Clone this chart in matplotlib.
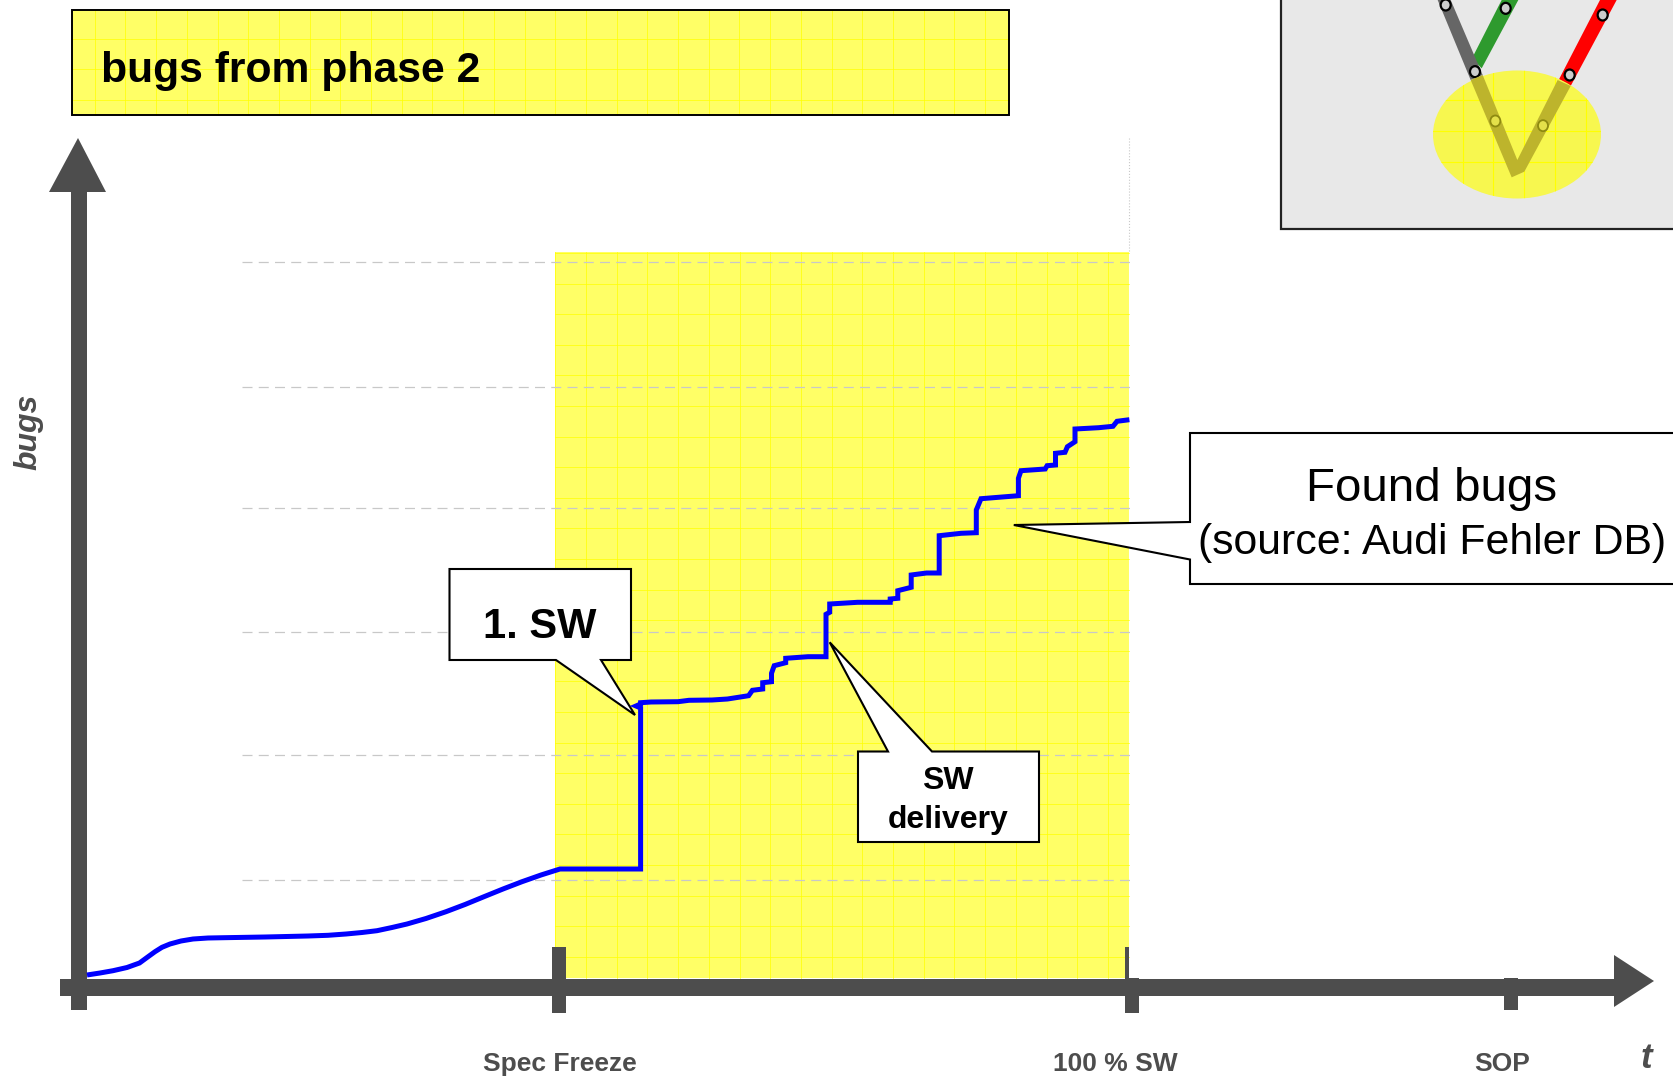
import numpy as np
import matplotlib
matplotlib.use("Agg")
import matplotlib.pyplot as plt
from matplotlib.patches import Rectangle, Polygon, Ellipse

plt.rcParams['font.family'] = ['Liberation Sans', 'DejaVu Sans']

# Found-bugs curve (pixel scale of the schematic chart)
curve_x = [87,100,113,127,139.5,147,155,162,170,181,193,208,224,265,308,328,346,362,377,392,407,426,446,465,484,503,522,541,560,640.6,640.6,636,640.6,640.6,651,678,689,712,727.5,748.6,752.4,762.7,762.7,771.5,771.5,774.2,785.7,785.7,808,826,826,829.7,829.7,857.6,890.2,890.2,897.8,897.8,911.2,911.2,926.5,939.2,939.2,961,976.3,976.3,981,1018.4,1018.4,1021,1045.2,1047.1,1055.5,1055.5,1065,1067.4,1075,1075,1098.7,1113,1117,1129.4]
curve_y = [975,973,970.7,967.5,963,957.5,951.7,947.3,944,941,939,938,937.7,937,936,935.3,934,932.5,930.7,927.5,924,918.5,911.7,904.5,896.7,889,881.7,875,869,869,708,706,704,702.7,702,701.7,700.3,700,699,695.7,690.3,689,682.7,681.7,673.3,665.7,662.7,658.3,656.7,656.7,614.3,612.3,604,602.3,602.3,599,598.3,590.7,587.3,575,573,573,535.7,533.3,532.7,510,498.7,495.7,478.3,470.7,469,465.7,465,453.3,452.3,446.7,441.7,429,427.7,426.3,421.3,419.7]
gridline_y = [261.5, 386.5, 508, 632, 755, 880]
milestones = ["Spec Freeze", "100 % SW", "SOP"]
milestone_x = [560, 1115, 1502]

DARK = "#4D4D4D"
YEL_BG = "#FFFF66"
YEL_LN = "#FFFF00"

fig = plt.figure(figsize=(16.74, 10.76), dpi=100)
ax = fig.add_axes([0, 0, 1, 1])
ax.set_xlim(0, 1674)
ax.set_ylim(1076, 0)
ax.axis("off")


def yellow_patch(x0, y0, x1, y1, edge=None):
    ax.add_patch(Rectangle((x0, y0), x1 - x0, y1 - y0, fc=YEL_BG, ec="none", zorder=1))
    for x in np.arange(586 % 30.7 + 30.7 * np.ceil((x0 - 586 % 30.7) / 30.7), x1, 30.7):
        ax.plot([x, x], [y0, y1], color=YEL_LN, lw=0.5, zorder=1.1)
    for y in np.arange(406 % 30.6 + 30.6 * np.ceil((y0 - 406 % 30.6) / 30.6), y1, 30.6):
        ax.plot([x0, x1], [y, y], color=YEL_LN, lw=0.5, zorder=1.1)
    if edge:
        ax.add_patch(Rectangle((x0, y0), x1 - x0, y1 - y0, fc="none", ec=edge, lw=1.4, zorder=1.2))


# main highlight and title box
yellow_patch(555, 252, 1129.5, 978)
yellow_patch(72, 10, 1009, 115, edge="black")
ax.text(101, 71, "bugs from phase 2", fontsize=30.7, fontweight="bold", va="center", ha="left", color="black", zorder=5)

# dashed level lines
for y in gridline_y:
    ax.plot([242, 1130], [y, y], color="#C8C8C8", lw=0.9, dashes=(8, 5), zorder=1.5)
ax.plot([1129.5, 1129.5], [138, 252], color="#C8C8C8", lw=0.8, ls=":", zorder=1.5)

# inset
ax.add_patch(Rectangle((1281, -5), 400, 234, fc="#E8E8E8", ec="#222222", lw=1.6, zorder=1))
def zp(pts):
    return [(1260 + a / 3, b / 3) for a, b in pts]
ax.add_patch(Polygon(zp([(636,175),(665,205),(775,0),(725,0)]), fc="#2E9A2E", ec="none", zorder=2))
ax.add_patch(Polygon(zp([(632,240),(668,225),(572,0),(533,0)]), fc="#666666", ec="none", zorder=2.1))
ax.add_patch(Polygon(zp([(897,238),(932,258),(1070,0),(1020,0)]), fc="#FF0000", ec="none", zorder=2))
for a, b in [(557,15),(645,215),(737,25),(929,225),(1028,45)]:
    (px, py), = zp([(a, b)])
    ax.add_patch(Ellipse((px, py), 10, 11, fc="#CCCCCC", ec="black", lw=1.6, zorder=3))
ell = Ellipse((1517, 134.5), 168, 128, fc="#F7F74F", ec="none", zorder=3.2)
ax.add_patch(ell)
for x in [1463, 1493, 1524, 1555, 1586]:
    l, = ax.plot([x, x], [60, 210], color=YEL_LN, lw=0.8, zorder=3.3)
    l.set_clip_path(ell)
for y in [100, 131, 162]:
    l, = ax.plot([1430, 1610], [y, y], color=YEL_LN, lw=0.8, zorder=3.3)
    l.set_clip_path(ell)
ax.add_patch(Polygon(zp([(632,240),(668,225),(772,480),(893,240),(932,258),(793,515),(755,532)]), fc="#BDB42C", ec="none", zorder=3.4))
for a, b in [(706,363),(849,377)]:
    (px, py), = zp([(a, b)])
    ax.add_patch(Ellipse((px, py), 10, 11, fc="#E4E04A", ec="#8E8A10", lw=1.3, zorder=3.5))

# axes
ax.add_patch(Rectangle((71, 192), 16, 818, fc=DARK, ec="none", zorder=3))
ax.add_patch(Polygon([(49, 192), (106, 192), (78, 138)], fc=DARK, ec="none", zorder=3))
ax.add_patch(Rectangle((60, 979), 1556, 17, fc=DARK, ec="none", zorder=3))
ax.add_patch(Polygon([(1614, 955), (1614, 1007), (1654, 981)], fc=DARK, ec="none", zorder=3))
ax.add_patch(Rectangle((552, 947), 14, 66, fc=DARK, ec="none", zorder=3))
ax.add_patch(Rectangle((1125, 977.5), 14, 35.5, fc=DARK, ec="none", zorder=3))
ax.add_patch(Rectangle((1125, 947), 4.5, 32, fc=DARK, ec="none", zorder=3))
ax.add_patch(Rectangle((1504.5, 978), 14, 32, fc=DARK, ec="none", zorder=3))

# curve
ax.plot(curve_x, curve_y, color="#0000FF", lw=3.6, solid_joinstyle="miter", solid_capstyle="butt", zorder=4)

# callouts
ax.add_patch(Polygon([(449.5,569),(631,569),(631,660),(601,660),(635,715),(556,660),(449.5,660)], fc="white", ec="black", lw=1.5, zorder=3.8))
ax.text(540, 627, "1. SW", fontsize=30, fontweight="bold", ha="center", va="center", zorder=6)
ax.add_patch(Polygon([(858,751.5),(888,751.5),(829.7,642.3),(932,751.5),(1039,751.5),(1039,842),(858,842)], fc="white", ec="black", lw=1.5, zorder=3.8))
ax.text(948, 800.5, "SW\ndelivery", fontsize=23, fontweight="bold", ha="center", va="center", linespacing=1.4, zorder=6)
ax.add_patch(Polygon([(1190,433),(1680,433),(1680,584),(1190,584),(1190,559.5),(1013.8,525),(1190,522)], fc="white", ec="black", lw=1.5, zorder=3.8))
ax.text(1432, 489, "Found bugs", fontsize=34.2, ha="center", va="center", zorder=6)
ax.text(1432, 543, "(source: Audi Fehler DB)", fontsize=30.8, ha="center", va="center", zorder=6)

# labels
for name, x in zip(milestones, milestone_x):
    ax.text(x, 1064, name, fontsize=19, fontweight="bold", color=DARK, ha="center", va="center", zorder=6)
ax.text(1646, 1059, "t", fontsize=25, fontweight="bold", style="italic", color=DARK, ha="center", va="center", zorder=6)
ax.text(28, 432, "bugs", fontsize=23, fontweight="bold", style="italic", color=DARK, rotation=90, ha="center", va="center", zorder=6)

fig.savefig("out.png", dpi=100)
